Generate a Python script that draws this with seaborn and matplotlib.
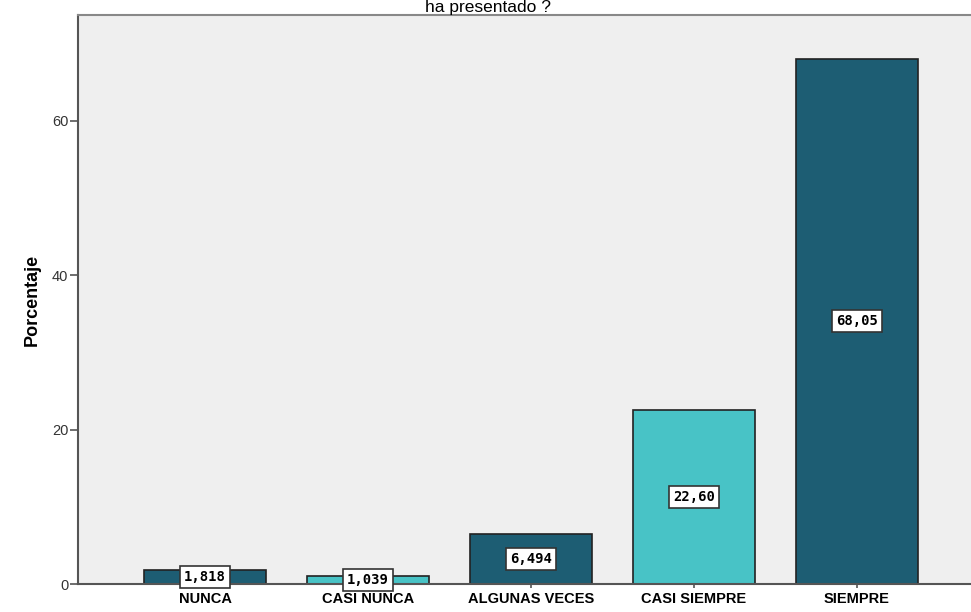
import matplotlib
matplotlib.use("Agg")
import matplotlib.pyplot as plt
import seaborn as sns
import pandas as pd

categories = ["NUNCA", "CASI NUNCA", "ALGUNAS VECES", "CASI SIEMPRE", "SIEMPRE"]
values = [1.818, 1.039, 6.494, 22.60, 68.05]
value_labels = ["1,818", "1,039", "6,494", "22,60", "68,05"]
bar_colors = ["#1d5d73", "#48c3c6", "#1d5d73", "#48c3c6", "#1d5d73"]

sns.set_style("white")
plt.rcParams["font.family"] = ["Liberation Sans", "DejaVu Sans"]
plt.rcParams["text.color"] = "black"
plt.rcParams["axes.labelcolor"] = "black"

df = pd.DataFrame({"cat": categories, "pct": values})

fig = plt.figure(figsize=(9.71, 6.12), dpi=100)
ax = fig.add_axes([78 / 971, 28 / 612, 1 - 78 / 971, 569 / 612])
ax.set_facecolor("#efefef")

sns.barplot(data=df, x="cat", y="pct", hue="cat", palette=bar_colors,
            legend=False, width=0.75, edgecolor="#222222", linewidth=1.2,
            saturation=1, ax=ax)

# value labels sit in the middle of each bar
for i, (lab, v) in enumerate(zip(value_labels, values)):
    ax.text(i, v / 2, lab, ha="center", va="center", fontsize=10,
            fontweight="bold", family="DejaVu Sans Mono", color="black",
            bbox=dict(boxstyle="square,pad=0.3", facecolor="white",
                      edgecolor="#333333", linewidth=1.2))

ax.set_xlim(-0.78, 4.70)
ax.set_ylim(0, 73.7)
ax.set_yticks([0, 20, 40, 60])
ax.tick_params(axis="y", labelsize=10.5, labelcolor="#333333", length=6,
               width=1.2, color="#555555", direction="out", left=True, pad=1)
ax.tick_params(axis="x", labelsize=10.5, labelcolor="black", length=3,
               width=1.2, color="#555555", direction="out", bottom=True, pad=3)
for t in ax.get_xticklabels():
    t.set_fontweight("bold")

ax.set_xlabel("")
ax.set_ylabel("Porcentaje", fontsize=13, fontweight="bold", labelpad=8)

for s in ["left", "bottom"]:
    ax.spines[s].set_color("#555555")
    ax.spines[s].set_linewidth(1.5)
ax.spines["top"].set_color("#888888")
ax.spines["top"].set_linewidth(1.5)
ax.spines["right"].set_visible(False)

fig.text(488 / 971, 1.0, "ha presentado ?", ha="center", va="top",
         fontsize=12.5)

fig.savefig("out.png", dpi=100)
